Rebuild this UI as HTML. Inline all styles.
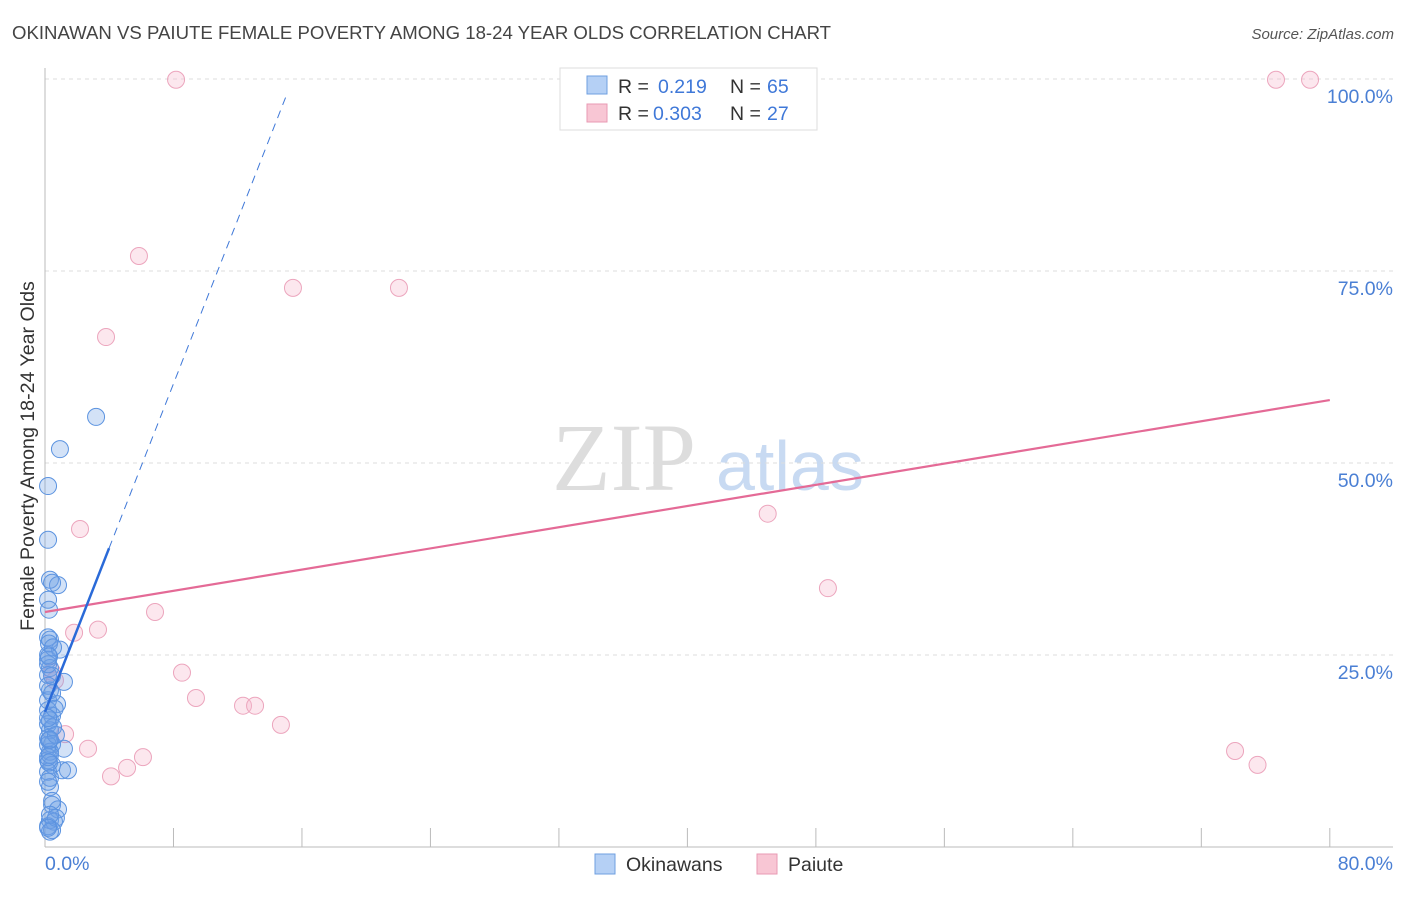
<!DOCTYPE html>
<html><head><meta charset="utf-8"><style>
body{margin:0;background:#fff;font-family:"Liberation Sans",sans-serif}
</style></head><body>
<svg id="chart" width="1406" height="892" xmlns="http://www.w3.org/2000/svg">
<text x="12" y="39" font-size="18.6" fill="#444">OKINAWAN VS PAIUTE FEMALE POVERTY AMONG 18-24 YEAR OLDS CORRELATION CHART</text>
<text x="1394" y="39" font-size="15" fill="#555" font-style="italic" text-anchor="end">Source: ZipAtlas.com</text>
<g><text x="552" y="490" font-family="Liberation Serif,serif" font-size="96" fill="#ddd">ZIP</text><text x="716" y="490" font-size="70" fill="#c8daf2">atlas</text></g>
<g id="grid"></g>
<g id="axes"></g>
<g id="marks"></g>
<g>
<rect x="560" y="68" width="257" height="62" fill="#fff" stroke="#ddd"/>
<rect x="587" y="76" width="20" height="18" fill="#b5d0f5" stroke="#6f9fe0"/>
<rect x="587" y="104" width="20" height="18" fill="#f8c6d4" stroke="#e89ab3"/>
<text y="93" font-size="19.5" fill="#333"><tspan x="618">R =</tspan><tspan x="658" fill="#3f78d8">0.219</tspan><tspan x="730">N =</tspan><tspan x="767" fill="#3f78d8">65</tspan></text>
<text y="120" font-size="19.5" fill="#333"><tspan x="618">R =</tspan><tspan x="653" fill="#3f78d8">0.303</tspan><tspan x="730">N =</tspan><tspan x="767" fill="#3f78d8">27</tspan></text>
</g>
<g>
<rect x="595" y="854" width="20" height="20" fill="#b5d0f5" stroke="#6f9fe0"/>
<text x="626" y="871" font-size="19.5" fill="#333">Okinawans</text>
<rect x="757" y="854" width="20" height="20" fill="#f8c6d4" stroke="#e89ab3"/>
<text x="788" y="871" font-size="19.5" fill="#333">Paiute</text>
</g>
<text transform="translate(34,456) rotate(-90)" font-size="19.6" fill="#333" text-anchor="middle">Female Poverty Among 18-24 Year Olds</text>
</svg>
<script>
const xTickLabels=["0.0%","80.0%"];
const yTickValues=[25,50,75,100];
const yTickLabels=["25.0%","50.0%","75.0%","100.0%"];
const blueX=[3.18,0.93,0.19,0.19,0.31,0.81,0.44,0.19,0.25,0.19,0.31,0.93,0.19,0.31,1.18,0.19,0.31,0.75,0.19,0.44,0.19,0.31,0.19,0.44,1.18,0.31,0.19,0.44,0.19,1.06,1.43,0.31,0.44,0.81,0.31,0.56,0.19,0.44,0.31,0.68,0.19,0.31,0.19,0.19,0.44,0.19,0.31,0.25,0.68,0.31,0.5,0.19,0.25,0.44,0.19,0.6,0.19,0.31,0.25,0.19,0.44,0.31,0.19,0.5,0.25];
const blueY=[56.0,51.8,47.0,40.0,34.8,34.1,34.4,32.2,30.9,27.3,27.0,25.7,24.4,23.3,21.5,22.4,20.4,18.6,17.8,17.1,16.0,15.2,14.2,13.4,12.8,12.4,11.3,10.7,9.8,10.0,10.0,7.8,5.5,4.9,3.5,3.3,2.7,2.2,2.0,3.8,19.1,16.5,13.3,25.0,22.3,11.7,9.0,13.9,14.6,12.0,15.6,21.0,26.5,20.0,23.8,18.0,16.8,14.0,11.0,8.5,6.0,4.2,2.5,26.0,24.8];
const pinkX=[8.16,76.65,78.77,5.85,15.44,22.04,3.80,2.18,45.0,48.75,6.85,3.30,1.81,8.53,0.44,0.62,9.40,12.33,13.08,14.69,1.25,2.68,6.10,5.11,4.11,74.1,75.5];
const pinkY=[99.9,99.9,99.9,76.95,72.8,72.8,66.4,41.4,43.4,33.7,30.6,28.3,27.9,22.7,22.8,21.7,19.4,18.4,18.4,15.9,14.7,12.8,11.7,10.3,9.2,12.5,10.7];
const blueTrend=[17.6,5.34];
const pinkTrend=[30.6,0.345];
const X=v=>45+v*16.06, Y=v=>847-v*7.68;
const NS="http://www.w3.org/2000/svg";
function mk(p,t,a){const e=document.createElementNS(NS,t);for(const k in a)e.setAttribute(k,a[k]);p.appendChild(e);return e;}
const grid=document.getElementById('grid'),axes=document.getElementById('axes'),marks=document.getElementById('marks');
yTickValues.forEach((v,i)=>{
 const l=mk(grid,'line',{x1:45,x2:1393,y1:Y(v),y2:Y(v),stroke:'#ddd','stroke-dasharray':'4,4'});
 
 
 const t=mk(axes,'text',{x:1393,y:Y(v)+24,'font-size':19.5,fill:'#4a7fd4','text-anchor':'end'});t.textContent=yTickLabels[i];
 
 
});
mk(axes,'line',{x1:45,x2:45,y1:68,y2:847,stroke:'#bbb'});
mk(axes,'line',{x1:45,x2:1393,y1:847,y2:847,stroke:'#bbb'});
for(let i=1;i<=10;i++){const x=X(i*8);const t=mk(axes,'line',{x1:x,x2:x,y1:828,y2:847,stroke:'#bbb'});
 
 }
[[0,'start',45],[80,'end',1393]].forEach((d,i)=>{const t=mk(axes,'text',{x:d[2],y:870,'font-size':19.5,fill:'#4a7fd4','text-anchor':d[1]});t.textContent=xTickLabels[i];
 
 });
pinkX.forEach((x,i)=>{const c=mk(marks,'circle',{cx:X(x),cy:Y(pinkY[i]),r:8.5,fill:'rgba(246,185,205,0.35)',stroke:'#eca5bd','stroke-width':1});
 
 });
blueX.forEach((x,i)=>{const c=mk(marks,'circle',{cx:X(x),cy:Y(blueY[i]),r:8.5,fill:'rgba(110,160,230,0.3)',stroke:'#5b93e0','stroke-width':1});
 
 });
const bt=v=>blueTrend[0]+blueTrend[1]*v, pt=v=>pinkTrend[0]+pinkTrend[1]*v;
let l=mk(marks,'line',{x1:X(0),y1:Y(pt(0)),x2:X(80),y2:Y(pt(80)),stroke:'#e46a96','stroke-width':2.2});


l=mk(marks,'line',{x1:X(3.99),y1:Y(bt(3.99)),x2:X(15.07),y2:Y(bt(15.07)),stroke:'#3f78d8','stroke-width':1,'stroke-dasharray':'8,6'});


l=mk(marks,'line',{x1:X(0),y1:Y(bt(0)),x2:X(3.99),y2:Y(bt(3.99)),stroke:'#2a6ad8','stroke-width':2.5});


</script>
</body></html>
